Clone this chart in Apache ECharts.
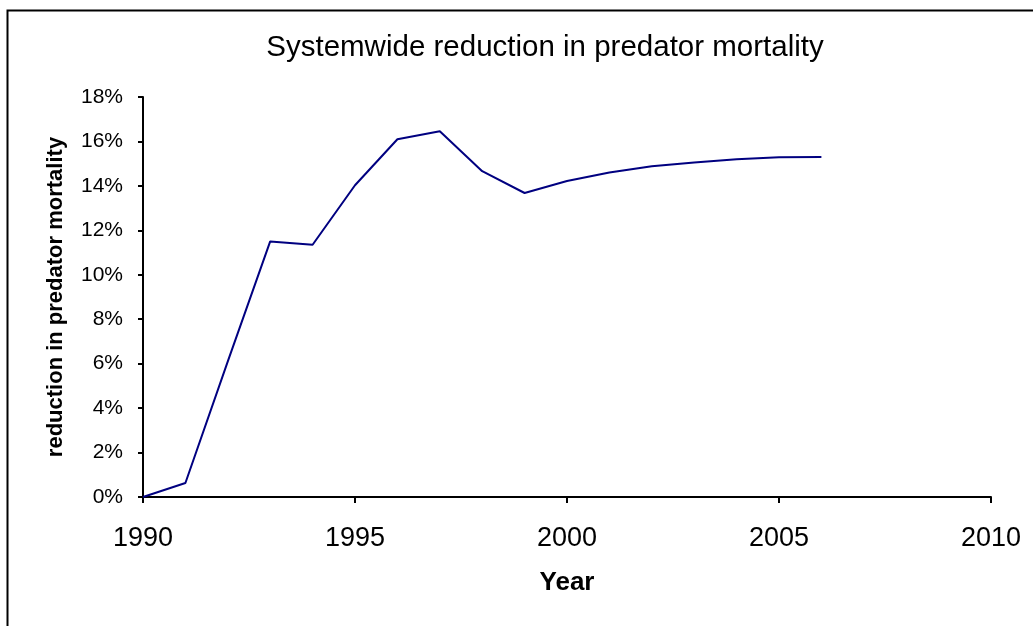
<!DOCTYPE html>
<html>
<head>
<meta charset="utf-8">
<script src="https://cdn.jsdelivr.net/npm/echarts@6/dist/echarts.min.js"></script>
<style>
  html, body { margin: 0; padding: 0; background: #fff; }
  #chart { width: 1033px; height: 626px; }
</style>
</head>
<body>
<div id="chart"></div>
<script>
// data (percent)
const years = [1990, 1991, 1992, 1993, 1994, 1995, 1996, 1997, 1998, 1999, 2000, 2001, 2002, 2003, 2004, 2005, 2006];
const reduction = [0, 0.63, 6.1, 11.5, 11.35, 14.03, 16.1, 16.46, 14.66, 13.68, 14.22, 14.6, 14.88, 15.05, 15.2, 15.29, 15.3];

const chart = echarts.init(document.getElementById("chart"));
const font = "'Liberation Sans', Arial, sans-serif";

const option = {
  animation: false,
  backgroundColor: "#fff",
  title: {
    text: "Systemwide reduction in predator mortality",
    left: 540,
    top: 28,
    textAlign: "center",
    textStyle: { fontFamily: font, fontSize: 29.5, fontWeight: "normal", color: "#000" }
  },
  grid: { left: 143, right: 42, top: 97, bottom: 129 },
  xAxis: {
    type: "value",
    min: 1990,
    max: 2010,
    interval: 5,
    name: "Year",
    nameLocation: "middle",
    nameGap: 73,
    nameTextStyle: { fontFamily: font, fontSize: 26, fontWeight: "bold", color: "#000" },
    axisLine: { lineStyle: { color: "#000", width: 2 } },
    axisTick: { show: true, inside: false, length: 6, lineStyle: { color: "#000", width: 2 } },
    axisLabel: { fontFamily: font, fontSize: 27, color: "#000", margin: 28, formatter: v => String(v) },
    splitLine: { show: false }
  },
  yAxis: {
    type: "value",
    min: 0,
    max: 18,
    interval: 2,
    name: "reduction in predator mortality",
    nameLocation: "middle",
    nameGap: 76,
    nameTextStyle: { fontFamily: font, fontSize: 22, fontWeight: "bold", color: "#000" },
    axisLine: { show: true, lineStyle: { color: "#000", width: 2 } },
    axisTick: { show: true, inside: false, length: 5, lineStyle: { color: "#000", width: 2 } },
    axisLabel: { fontFamily: font, fontSize: 21, color: "#000", margin: 20, formatter: "{value}%" },
    splitLine: { show: false }
  },
  graphic: [{
    type: "rect",
    left: 5,
    top: 8,
    shape: { width: 1100, height: 700 },
    style: { fill: "none", stroke: "#000", lineWidth: 2 },
    z: 100
  }],
  series: [{
    type: "line",
    data: years.map((y, i) => [y, reduction[i]]),
    showSymbol: false,
    lineStyle: { color: "#000080", width: 2 },
    itemStyle: { color: "#000080" }
  }]
};

chart.setOption(option);
</script>
</body>
</html>
